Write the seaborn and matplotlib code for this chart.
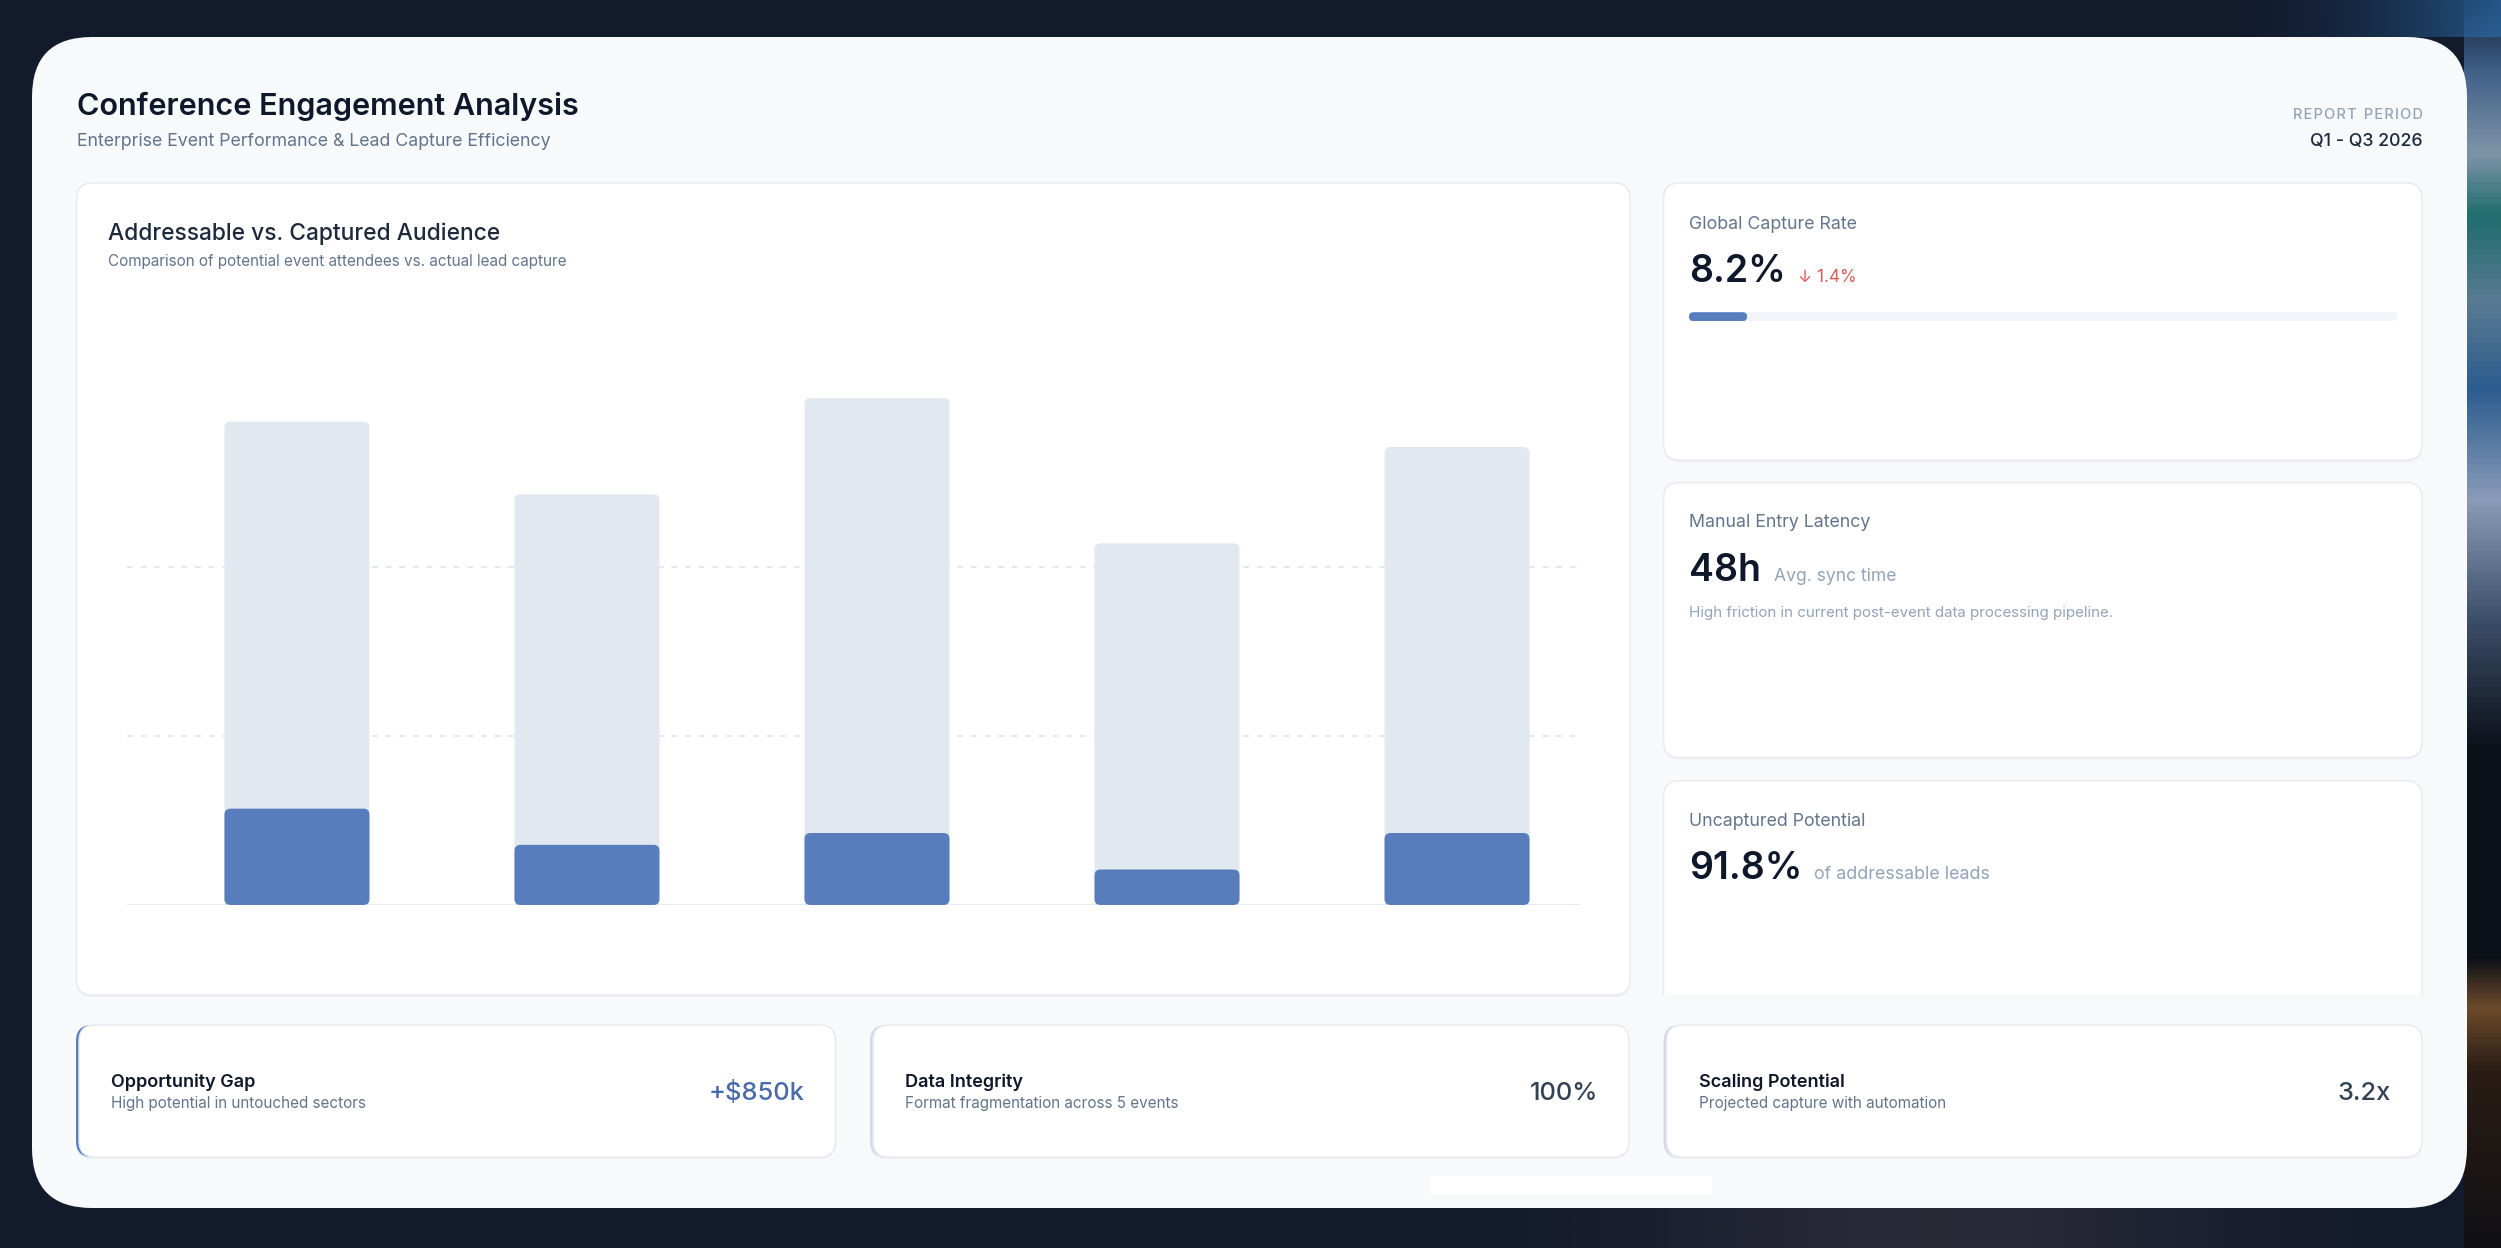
# Conference engagement dashboard: addressable vs captured audience + KPI cards
import numpy as np
import matplotlib.pyplot as plt
import seaborn as sns
from matplotlib.patches import FancyBboxPatch, Rectangle
from matplotlib.colors import LinearSegmentedColormap, to_rgb

# data
events = ['Event 1', 'Event 2', 'Event 3', 'Event 4', 'Event 5']
addressable = [14300, 12150, 15000, 10700, 13550]
captured = [2850, 1780, 2130, 1050, 2130]
grid_ticks = [5000, 10000]

capture_rate = 8.2
capture_delta = 1.4
latency_hours = 48
uncaptured_share = 91.8

footer_titles = ['Opportunity Gap', 'Data Integrity', 'Scaling Potential']
footer_notes = ['High potential in untouched sectors',
                'Format fragmentation across 5 events',
                'Projected capture with automation']
footer_values = ['+$850k', '100%', '3.2x']

# colours
NAVY = '#121a2c'
PANEL = '#f7f9fb'
GRAY_BAR = '#e2e8f0'
BLUE = '#587dbd'
DARK = '#0f172a'
SLATE = '#64748b'
MUTED = '#94a3b8'

sns.set_theme(style='white')
plt.rcParams['font.family'] = ['Inter', 'DejaVu Sans']

W, H = 2501, 1248
fig = plt.figure(figsize=(W / 100, H / 100), dpi=100)

# full-figure axes in pixel coordinates for the layout
bg = fig.add_axes([0, 0, 1, 1])
bg.axis('off')
bg.add_patch(Rectangle((0, 0), W, H, color=NAVY, zorder=0))

# blurred photo edge on the right
edge = LinearSegmentedColormap.from_list('edge', [
    (0.00, '#16233a'), (0.05, '#3d5d86'), (0.12, '#7f94a8'), (0.17, '#1f6d6e'),
    (0.24, '#5a7a92'), (0.31, '#2b5d8f'), (0.40, '#8a9bb8'), (0.50, '#3a4d66'),
    (0.60, '#0c1019'), (0.77, '#0d1018'), (0.81, '#6d4b2c'), (0.86, '#2a1d14'),
    (1.00, '#111015')])
bg.imshow(np.linspace(0, 1, 256)[:, None], cmap=edge, extent=[2464, W, H, 0],
          aspect='auto', interpolation='bilinear', zorder=0.5)

glow = np.zeros((1, 64, 4))
glow[..., :3] = to_rgb('#2a6aa6')
glow[..., 3] = np.linspace(0, 0.85, 64) ** 2
bg.imshow(glow, extent=[2200, W, 37, 0], aspect='auto', interpolation='bilinear', zorder=0.6)

haze = np.zeros((1, 64, 4))
haze[..., :3] = to_rgb('#3b3540')
haze[..., 3] = 0.6 * np.exp(-((np.linspace(0, 1, 64) - 0.55) / 0.25) ** 2)
bg.imshow(haze, extent=[1300, 2464, H, 1208], aspect='auto', interpolation='bilinear', zorder=0.6)

bg.set_xlim(0, W)
bg.set_ylim(H, 0)

# main panel
bg.add_patch(FancyBboxPatch((32, 37), 2435, 1171, boxstyle='round,pad=0,rounding_size=60',
                            fc=PANEL, ec='none', zorder=1))
bg.add_patch(Rectangle((1431, 1176), 281, 19, fc='white', ec='none', zorder=1.5))


def card(x0, y0, x1, y1, accent=None, clip_y=None):
    w, h = x1 - x0, y1 - y0
    parts = [FancyBboxPatch((x0, y0 + 2), w, h, boxstyle='round,pad=0,rounding_size=16',
                            fc='#e8ecf1', ec='none', alpha=0.7, zorder=2)]
    if accent:
        parts.append(FancyBboxPatch((x0, y0), w, h, boxstyle='round,pad=0,rounding_size=16',
                                    fc=accent, ec='none', zorder=2.5))
        x0, w = x0 + 3, w - 3
    parts.append(FancyBboxPatch((x0, y0), w, h, boxstyle='round,pad=0,rounding_size=16',
                                fc='white', ec='#e6eaf0', lw=1, zorder=3))
    for p in parts:
        bg.add_patch(p)
        if clip_y is not None:
            p.set_clip_path(Rectangle((0, 0), W, clip_y, transform=bg.transData))


card(76.5, 183, 1630, 995)
card(1663.6, 183, 2422, 460)
card(1663.6, 482.5, 2422, 757.5)
card(1663.6, 780.7, 2422, 1030, clip_y=995)

foot_x = [(76, 835.5), (870, 1629), (1663.6, 2422)]
accents = [BLUE, '#d3d9e6', '#d3d9e6']
for (x0, x1), acc in zip(foot_x, accents):
    card(x0, 1025, x1, 1157, accent=acc)


def txt(x, y, s, size, color, weight='normal', ha='left'):
    bg.text(x, y, s, fontsize=size, color=color, fontweight=weight, ha=ha, va='baseline', zorder=5)


# header
txt(77, 115, 'Conference Engagement Analysis', 22, DARK, 'semibold')
txt(77, 146, 'Enterprise Event Performance & Lead Capture Efficiency', 12.8, SLATE)
txt(2423, 119, 'R E P O R T   P E R I O D'.replace('   ', '\u2002').replace(' ', '\u200a'),
    10.5, MUTED, 'medium', ha='right')
txt(2423, 146, 'Q1 - Q3 2026', 12.8, '#1e293b', 'medium', ha='right')

# chart card texts
txt(108.5, 240, 'Addressable vs. Captured Audience', 16.4, '#1e293b', 'medium')
txt(108.5, 266, 'Comparison of potential event attendees vs. actual lead capture', 11, SLATE)

# KPI cards
txt(1689, 229, 'Global Capture Rate', 12.8, SLATE)
txt(1689, 282, f'{capture_rate}%', 27, DARK, 'semibold')
txt(1797.6, 282, f'\u2193 {capture_delta}%', 12.3, '#e05a5a')

txt(1689, 527, 'Manual Entry Latency', 12.8, SLATE)
txt(1689, 580.7, f'{latency_hours}h', 27, DARK, 'semibold')
txt(1773.7, 580.7, 'Avg. sync time', 12.6, MUTED)
txt(1689, 617.5, 'High friction in current post-event data processing pipeline.', 10.9, MUTED)

txt(1689, 826, 'Uncaptured Potential', 12.8, SLATE)
txt(1689, 879, f'{uncaptured_share}%', 27, DARK, 'semibold')
txt(1813.9, 879, 'of addressable leads', 12.9, MUTED)

# footer cards
val_colors = ['#4a6aab', '#334155', '#334155']
for (x0, x1), t, n, v, vc in zip(foot_x, footer_titles, footer_notes, footer_values, val_colors):
    txt(x0 + 35, 1087, t, 13, DARK, 'semibold')
    txt(x0 + 35, 1108, n, 11, SLATE)
    txt(x1 - 31, 1100, v, 18.3, vc, 'medium', ha='right')


def round_bars(ax, r_px, ux, uy):
    for p in list(ax.patches):
        fb = FancyBboxPatch((p.get_x(), p.get_y()), p.get_width(), p.get_height(),
                            boxstyle=f'round,pad=0,rounding_size={r_px * ux}',
                            mutation_aspect=uy / ux, fc=p.get_facecolor(), ec='none',
                            zorder=p.get_zorder())
        p.remove()
        ax.add_patch(fb)


# capture-rate progress bar
pb_l, pb_r, pb_y, pb_h = 1689, 2397, 312.2, 9
pax = fig.add_axes([pb_l / W, (H - pb_y - pb_h) / H, (pb_r - pb_l) / W, pb_h / H])
pax.barh([0], [100], height=1, color='#f1f5f9', zorder=1)
pax.barh([0], [capture_rate], height=1, color=BLUE, zorder=2)
pax.set_xlim(0, 100)
pax.set_ylim(-0.5, 0.5)
pax.axis('off')
round_bars(pax, 4.5, 100 / (pb_r - pb_l), 1 / pb_h)

# bar chart
ax_l, ax_r, ax_b, ax_t = 127, 1580, 905, 380
ax = fig.add_axes([ax_l / W, (H - ax_b) / H, (ax_r - ax_l) / W, (ax_b - ax_t) / H])
ax.set_facecolor('none')
sns.barplot(x=events, y=addressable, color=GRAY_BAR, saturation=1, width=0.5, ax=ax, zorder=2)
sns.barplot(x=events, y=captured, color=BLUE, saturation=1, width=0.5, ax=ax, zorder=3)
ymax = (ax_b - ax_t) * 5000 / 169
xlo, xhi = -0.586, 4.424
ax.set_xlim(xlo, xhi)
ax.set_ylim(0, ymax)
for t in grid_ticks:
    ax.axhline(t, color='#e3e8ef', lw=1.4, ls=(0, (3, 4)), zorder=1)
ax.axhline(0, color='#e2e8f0', lw=2, zorder=1)
round_bars(ax, 6, (xhi - xlo) / (ax_r - ax_l), ymax / (ax_b - ax_t))
ax.set_xticks([])
ax.set_yticks([])
ax.set_xlabel('')
ax.set_ylabel('')
sns.despine(ax=ax, left=True, bottom=True)

fig.savefig('out.png', dpi=100)
